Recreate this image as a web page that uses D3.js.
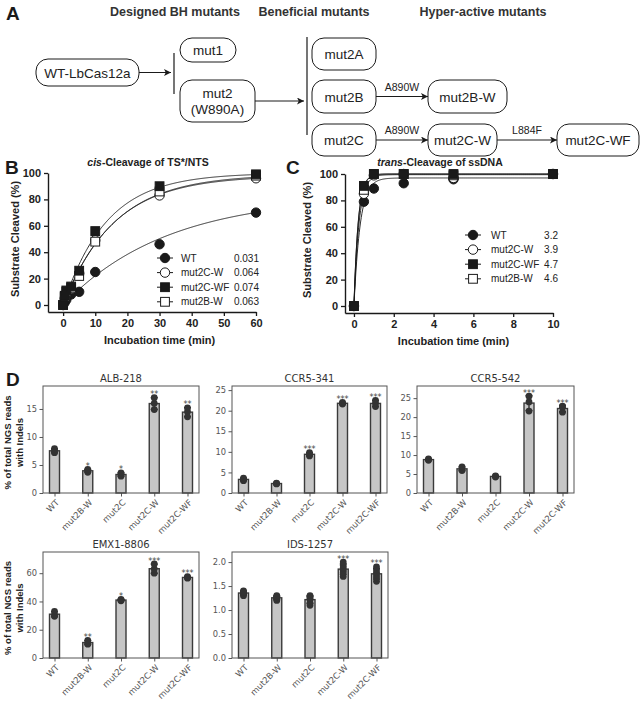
<!DOCTYPE html>
<html><head><meta charset="utf-8">
<script src="https://cdn.jsdelivr.net/npm/d3@7/dist/d3.min.js"></script>
<style>html,body{margin:0;padding:0;background:#fff}svg{display:block}</style>
</head><body>
<svg id="fig" width="642" height="702"></svg>
<script>
// ================= DATA =================
// Panel A (diagram)
const aHeaders = ["Designed BH mutants", "Beneficial mutants", "Hyper-active mutants"];
const aNodeKeys = ["wt", "mut1", "mut2", "mut2A", "mut2B", "mut2C", "mut2BW", "mut2CW", "mut2CWF"];
const aNodeLabels = [["WT-LbCas12a"], ["mut1"], ["mut2", "(W890A)"], ["mut2A"], ["mut2B"], ["mut2C"], ["mut2B-W"], ["mut2C-W"], ["mut2C-WF"]];
const aMutationLabels = ["A890W", "A890W", "L884F"];

// Panel B: cis-cleavage
const cisTitle = ["cis", "-Cleavage of TS*/NTS"];
const cisTimes = [0, 0.5, 1, 2.5, 5, 10, 30, 60];
const cisSeriesNames = ["WT", "mut2C-W", "mut2C-WF", "mut2B-W"];
const cisWT      = [0, 2, 4, 8, 10, 25, 46, 70];
const cisMut2CW  = [0, 5, 9, 12, 24, 49, 83, 96];
const cisMut2CWF = [0, 7, 11, 14, 26, 56, 90, 99];
const cisMut2BW  = [0, 6, 10, 13, 22, 48, 86, 98];
const cisRates = ["0.031", "0.064", "0.074", "0.063"];
const cisPlateaus = [83, 98, 100, 99];
const cisXTicks = [0, 10, 20, 30, 40, 50, 60];
const pctTicks = [0, 20, 40, 60, 80, 100];

// Panel C: trans-cleavage
const transTitle = ["trans", "-Cleavage of ssDNA"];
const transTimes = [0, 0.5, 1, 2.5, 5, 10];
const transWT      = [0, 79, 89, 93, 96, 100];
const transMut2CW  = [0, 85, 99, 100, 97, 100];
const transMut2CWF = [0, 91, 100, 100, 100, 100];
const transMut2BW  = [0, 88, 100, 100, 99, 100];
const transRates = ["3.2", "3.9", "4.7", "4.6"];
const transPlateaus = [97, 99.5, 100, 100];
const transXTicks = [0, 2, 4, 6, 8, 10];

// Panel D: NGS indels
const ngsCats = ["WT", "mut2B-W", "mut2C", "mut2C-W", "mut2C-WF"];
const albReps  = [[7.2, 7.5, 7.9], [3.7, 4.0, 4.2], [3.0, 3.3, 3.6], [14.9, 16.0, 17.0], [13.6, 14.5, 15.2]];
const albStars = ["", "*", "*", "**", "**"];
const albTicks = [0, 5, 10, 15];
const ccr341Reps  = [[3.0, 3.3, 3.6], [2.2, 2.3, 2.4], [9.0, 9.4, 9.8], [21.6, 21.8, 22.0], [21.0, 21.8, 22.5]];
const ccr341Stars = ["", "", "***", "***", "***"];
const ccr341Ticks = [0, 5, 10, 15, 20, 25];
const ccr542Reps  = [[8.6, 8.8, 9.0], [5.9, 6.3, 6.9], [4.2, 4.4, 4.5], [21.6, 24.0, 25.5], [21.3, 22.6, 22.9]];
const ccr542Stars = ["", "", "", "***", "***"];
const ccr542Ticks = [0, 5, 10, 15, 20, 25];
const emxReps  = [[29.5, 30.5, 33.0], [9.8, 10.5, 12.5], [40.5, 41.0, 41.5], [60.0, 63.0, 66.5], [56.5, 57.0, 57.5]];
const emxStars = ["", "**", "*", "***", "***"];
const emxTicks = [0, 20, 40, 60];
const idsReps  = [[1.30, 1.33, 1.35, 1.37, 1.38, 1.40], [1.20, 1.23, 1.25, 1.27, 1.28, 1.30],
                  [1.10, 1.15, 1.22, 1.25, 1.28, 1.30], [1.70, 1.78, 1.83, 1.88, 1.93, 2.00],
                  [1.60, 1.68, 1.73, 1.78, 1.84, 1.90]];
const idsStars = ["", "", "", "***", "***"];
const idsTicks = [0.0, 0.5, 1.0, 1.5, 2.0];
const ngsYLabel = ["% of total NGS reads", "with Indels"];

// ================= DRAWING =================
const svg = d3.select("#fig");
const ARIAL = "'Liberation Sans', Arial, sans-serif";
const DEJA = "'DejaVu Sans', sans-serif";
const INK = "#1a1a1a";

svg.append("defs").append("marker")
  .attr("id", "arr").attr("viewBox", "0 0 10 10").attr("refX", 10).attr("refY", 5)
  .attr("markerWidth", 9).attr("markerHeight", 7).attr("markerUnits", "userSpaceOnUse")
  .attr("orient", "auto")
  .append("path").attr("d", "M0,0 L10,5 L0,10 L2.5,5 z").attr("fill", INK);

function panelLetter(t, x, y) {
  svg.append("text").attr("x", x).attr("y", y).text(t)
    .attr("font-family", ARIAL).attr("font-weight", "bold").attr("font-size", 19).attr("fill", INK);
}
panelLetter("A", 6, 20); panelLetter("B", 5, 174); panelLetter("C", 286, 174); panelLetter("D", 6, 386);

// ---------- Panel A ----------
const aBoxes = {wt: [36, 59, 139, 86], mut1: [180, 38, 236, 62], mut2: [180, 80, 255, 122],
  mut2A: [312, 38, 376, 70], mut2B: [312, 80, 376, 113], mut2C: [312, 124, 376, 156],
  mut2BW: [428, 80, 507, 113], mut2CW: [428, 124, 497, 156], mut2CWF: [557, 124, 639, 156]};
const aHeaderX = [175, 314, 483];
const gA = svg.append("g");
gA.selectAll("text.hdr").data(aHeaders).join("text").attr("class", "hdr")
  .attr("x", (d, i) => aHeaderX[i]).attr("y", 16).attr("text-anchor", "middle")
  .attr("font-family", ARIAL).attr("font-weight", "bold").attr("font-size", 12.5).attr("fill", "#333").text(d => d);

aNodeKeys.forEach((k, i) => {
  const [x0, y0, x1, y1] = aBoxes[k];
  const h = y1 - y0;
  gA.append("rect").attr("x", x0).attr("y", y0).attr("width", x1 - x0).attr("height", h)
    .attr("rx", Math.min(12, h / 2)).attr("fill", "#fff").attr("stroke", INK).attr("stroke-width", 1);
  const lines = aNodeLabels[i];
  const cy = (y0 + y1) / 2;
  lines.forEach((l, j) => {
    gA.append("text").attr("x", (x0 + x1) / 2).attr("y", cy + (j - (lines.length - 1) / 2) * 16 + 5)
      .attr("text-anchor", "middle").attr("font-family", ARIAL).attr("font-size", 13.5).attr("fill", "#222").text(l);
  });
});
function arrow(x0, y, x1) {
  gA.append("line").attr("x1", x0).attr("y1", y).attr("x2", x1).attr("y2", y)
    .attr("stroke", INK).attr("stroke-width", 1).attr("marker-end", "url(#arr)");
}
function vline(x, y0, y1) {
  gA.append("line").attr("x1", x).attr("x2", x).attr("y1", y0).attr("y2", y1).attr("stroke", INK).attr("stroke-width", 1.2);
}
const bx = aBoxes;
arrow(bx.wt[2], 72.5, 171); vline(174, 53, 94);
arrow(bx.mut2[2], 101, 304); vline(307, 37, 135);
const rowB = (bx.mut2B[1] + bx.mut2B[3]) / 2, rowC = (bx.mut2C[1] + bx.mut2C[3]) / 2;
arrow(bx.mut2B[2], rowB, bx.mut2BW[0]);
arrow(bx.mut2C[2], rowC, bx.mut2CW[0]);
arrow(bx.mut2CW[2], rowC, bx.mut2CWF[0]);
[[402, rowB - 6], [402, rowC - 6], [527, rowC - 6]].forEach((p, i) => {
  gA.append("text").attr("x", p[0]).attr("y", p[1]).attr("text-anchor", "middle")
    .attr("font-family", ARIAL).attr("font-size", 10.5).attr("fill", "#222").text(aMutationLabels[i]);
});

// ---------- helpers for B / C ----------
function symbol(g, type, x, y) {
  if (type === "fc" || type === "oc") {
    g.append("circle").attr("cx", x).attr("cy", y).attr("r", 4.7)
      .attr("fill", type === "fc" ? INK : "#fff").attr("stroke", INK).attr("stroke-width", 1);
  } else {
    g.append("rect").attr("x", x - 4.4).attr("y", y - 4.4).attr("width", 8.8).attr("height", 8.8)
      .attr("fill", type === "fs" ? INK : "#fff").attr("stroke", INK).attr("stroke-width", 1);
  }
}
function styleAxis(sel) {
  sel.select(".domain").attr("stroke", INK).attr("stroke-width", 1.4);
  sel.selectAll(".tick line").attr("stroke", INK).attr("stroke-width", 1.3);
  sel.selectAll(".tick text").attr("font-family", ARIAL).attr("font-weight", "bold").attr("font-size", 11).attr("fill", "#222");
}
const symTypes = ["fc", "oc", "fs", "os"];
const drawOrder = [0, 1, 3, 2];

function kineticPanel(cfg) {
  const g = svg.append("g");
  const x = d3.scaleLinear().domain(cfg.xDom).range(cfg.xRange);
  const y = d3.scaleLinear().domain([-5.3, 100]).range([cfg.yBase, cfg.yTop]);
  const ax = g.append("g").attr("transform", `translate(0,${cfg.yBase})`)
    .call(d3.axisBottom(x).tickValues(cfg.xTicks).tickSize(4).tickPadding(3).tickSizeOuter(0));
  styleAxis(ax);
  const ay = g.append("g").attr("transform", `translate(${cfg.xRange[0]},0)`)
    .call(d3.axisLeft(y).tickValues(pctTicks).tickSize(4).tickPadding(3).tickSizeOuter(0));
  styleAxis(ay);
  const t = g.append("text").attr("x", cfg.titleX).attr("y", 166).attr("text-anchor", "middle")
    .attr("font-family", ARIAL).attr("font-weight", "bold").attr("font-size", 10.5).attr("fill", "#222");
  t.append("tspan").attr("font-style", "italic").text(cfg.title[0]);
  t.append("tspan").text(cfg.title[1]);
  g.append("text").attr("x", (x(0) + x(cfg.xTicks[cfg.xTicks.length - 1])) / 2).attr("y", cfg.yBase + 32)
    .attr("text-anchor", "middle").attr("font-family", ARIAL).attr("font-weight", "bold").attr("font-size", 11)
    .attr("fill", "#222").text("Incubation time (min)");
  const ylx = cfg.yLabelX, yly = (y(0) + y(100)) / 2;
  g.append("text").attr("transform", `translate(${ylx},${yly}) rotate(-90)`).attr("text-anchor", "middle")
    .attr("font-family", ARIAL).attr("font-weight", "bold").attr("font-size", 11).attr("fill", "#222")
    .text("Substrate Cleaved (%)");
  const tMax = cfg.xTicks[cfg.xTicks.length - 1];
  const line = d3.line().x(d => x(d[0])).y(d => y(d[1]));
  drawOrder.forEach(i => {
    const A = cfg.plateaus[i], k = +cfg.rates[i];
    const pts = d3.range(0, tMax + 1e-9, tMax / 300).map(tt => [tt, A * (1 - Math.exp(-k * tt))]);
    g.append("path").attr("d", line(pts)).attr("fill", "none").attr("stroke", INK).attr("stroke-width", 0.9);
  });
  drawOrder.forEach(i => {
    cfg.series[i].forEach((v, j) => symbol(g, symTypes[i], x(cfg.times[j]), y(v)));
  });
  legend(g, cfg);
}
function legend(g, cfg) {
  cisSeriesNames.forEach((nm, i) => {
    const yy = cfg.leg.y0 + i * cfg.leg.dy;
    g.append("line").attr("x1", cfg.leg.sx - 8).attr("x2", cfg.leg.sx + 8).attr("y1", yy).attr("y2", yy)
      .attr("stroke", INK).attr("stroke-width", 1);
    symbol(g, symTypes[i], cfg.leg.sx, yy);
    g.append("text").attr("x", cfg.leg.tx).attr("y", yy + 3.6).attr("font-family", ARIAL).attr("font-size", 10)
      .attr("fill", "#222").text(nm);
    g.append("text").attr("x", cfg.leg.vx).attr("y", yy + 3.6).attr("text-anchor", "end").attr("font-family", ARIAL)
      .attr("font-size", 10).attr("fill", "#222").text(cfg.rates[i]);
  });
}

kineticPanel({
  xDom: [-4.7, 60], xRange: [48, 256], yBase: 312, yTop: 173, xTicks: cisXTicks, times: cisTimes,
  series: [cisWT, cisMut2CW, cisMut2CWF, cisMut2BW], rates: cisRates, plateaus: cisPlateaus,
  title: cisTitle, titleX: 148, yLabelX: 19,
  leg: {y0: 258, dy: 14.6, sx: 165, tx: 181, vx: 259}
});
kineticPanel({
  xDom: [-0.45, 10], xRange: [345, 553], yBase: 313, yTop: 174, xTicks: transXTicks, times: transTimes,
  series: [transWT, transMut2CW, transMut2CWF, transMut2BW], rates: transRates, plateaus: transPlateaus,
  title: transTitle, titleX: 440, yLabelX: 311,
  leg: {y0: 235, dy: 14.6, sx: 473, tx: 491, vx: 558}
});

// ---------- Panel D ----------
const ngsPanels = [
  {title: "ALB-218",   reps: albReps,    stars: albStars,    ticks: albTicks,    yMax: 19.1, fmt: d3.format("d"),   box: [43, 386, 199, 493], ylab: true},
  {title: "CCR5-341",  reps: ccr341Reps, stars: ccr341Stars, ticks: ccr341Ticks, yMax: 26.0, fmt: d3.format("d"),   box: [232, 386, 387, 493]},
  {title: "CCR5-542",  reps: ccr542Reps, stars: ccr542Stars, ticks: ccr542Ticks, yMax: 28.2, fmt: d3.format("d"),   box: [417, 386, 574, 493]},
  {title: "EMX1-8806", reps: emxReps,    stars: emxStars,    ticks: emxTicks,    yMax: 75,   fmt: d3.format("d"),   box: [43, 552, 199, 658], ylab: true},
  {title: "IDS-1257",  reps: idsReps,    stars: idsStars,    ticks: idsTicks,    yMax: 2.21, fmt: d3.format(".1f"), box: [232, 552, 388, 658]}
];
ngsPanels.forEach(p => {
  const [x0, y0, x1, y1] = p.box;
  const g = svg.append("g");
  const x = d3.scalePoint().domain(ngsCats).range([x0 + 11.5, x1 - 11.5]);
  const y = d3.scaleLinear().domain([0, p.yMax]).range([y1, y0]);
  const ay = g.append("g").attr("transform", `translate(${x0},0)`)
    .call(d3.axisLeft(y).tickValues(p.ticks).tickFormat(p.fmt).tickSize(3.5).tickPadding(2.5));
  ay.select(".domain").remove();
  ay.selectAll(".tick line").attr("stroke", "#555");
  ay.selectAll(".tick text").attr("font-family", DEJA).attr("font-size", 8.3).attr("fill", "#555");
  const axx = g.append("g").attr("transform", `translate(0,${y1})`)
    .call(d3.axisBottom(x).tickSize(3.5).tickFormat(""));
  axx.select(".domain").remove();
  axx.selectAll(".tick line").attr("stroke", "#555");
  ngsCats.forEach(c => {
    const tx = x(c) + 3, ty = y1 + 8;
    g.append("text").attr("x", tx).attr("y", ty).attr("text-anchor", "end")
      .attr("transform", `rotate(-45,${tx},${ty})`).attr("dy", "0.35em")
      .attr("font-family", DEJA).attr("font-size", 8.5).attr("fill", "#555").text(c);
  });
  p.reps.forEach((r, i) => {
    const c = ngsCats[i], cx = x(c);
    const m = d3.mean(r), sd = d3.deviation(r);
    g.append("rect").attr("x", cx - 5).attr("y", y(m)).attr("width", 10).attr("height", y1 - y(m))
      .attr("fill", "#c6c6c6").attr("stroke", "#3a3a3a").attr("stroke-width", 1.4);
    const lo = y(m - sd), hi = y(m + sd);
    g.append("line").attr("x1", cx).attr("x2", cx).attr("y1", lo).attr("y2", hi).attr("stroke", "#333").attr("stroke-width", 1.4);
    [lo, hi].forEach(v => g.append("line").attr("x1", cx - 3.5).attr("x2", cx + 3.5).attr("y1", v).attr("y2", v)
      .attr("stroke", "#333").attr("stroke-width", 1.4));
    r.forEach(v => g.append("circle").attr("cx", cx).attr("cy", y(v)).attr("r", 3.4).attr("fill", "#333"));
    if (p.stars[i]) {
      const top = Math.min(hi, y(d3.max(r)) - 3.4);
      g.append("text").attr("x", cx).attr("y", top + 3).attr("text-anchor", "middle")
        .attr("font-family", DEJA).attr("font-size", 8).attr("fill", "#444").text(p.stars[i]);
    }
  });
  g.append("rect").attr("x", x0).attr("y", y0).attr("width", x1 - x0).attr("height", y1 - y0)
    .attr("fill", "none").attr("stroke", "#555").attr("stroke-width", 1);
  g.append("text").attr("x", (x0 + x1) / 2).attr("y", y0 - 4).attr("text-anchor", "middle")
    .attr("font-family", DEJA).attr("font-size", 10).attr("fill", "#333").text(p.title);
  if (p.ylab) {
    const cy = (y0 + y1) / 2 + 3;
    ngsYLabel.forEach((l, j) => {
      const lx = 11 + j * 12;
      g.append("text").attr("transform", `translate(${lx},${cy}) rotate(-90)`).attr("text-anchor", "middle")
        .attr("font-family", ARIAL).attr("font-weight", "bold").attr("font-size", 9.5).attr("fill", "#222").text(l);
    });
  }
});
</script>
</body></html>
